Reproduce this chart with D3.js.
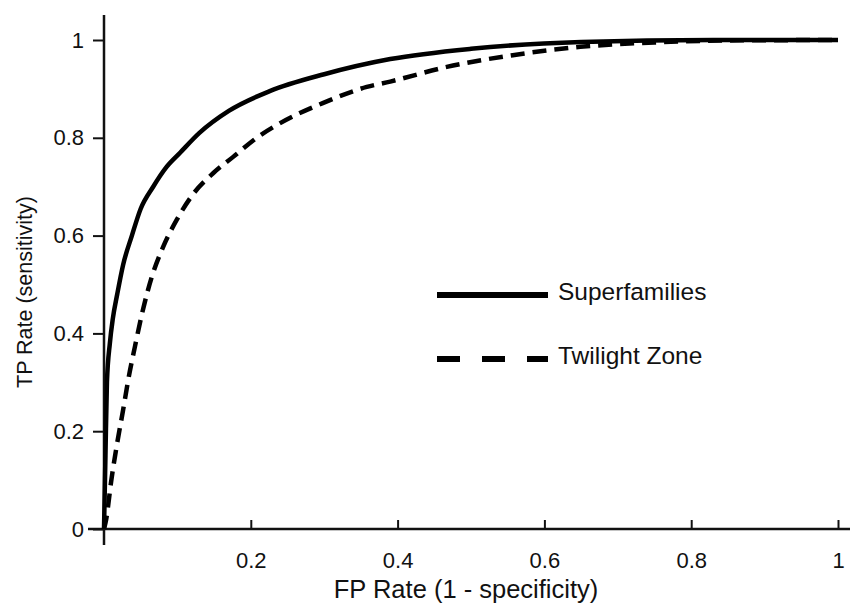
<!DOCTYPE html>
<html>
<head>
<meta charset="utf-8">
<script src="https://cdn.jsdelivr.net/npm/d3@7"></script>
<style>
  body { margin: 0; background: #fff; }
  svg text { font-family: "Liberation Sans", Arial, sans-serif; fill: #111; }
</style>
</head>
<body>
<svg id="plot"></svg>
<script>
// values
const superFpr = [0, 0.002, 0.004, 0.008, 0.012, 0.018, 0.026, 0.038, 0.05, 0.067, 0.085, 0.104, 0.13, 0.17, 0.225, 0.3, 0.39, 0.5, 0.65, 0.83, 1];
const superTpr = [0, 0.15, 0.3, 0.38, 0.43, 0.48, 0.54, 0.6, 0.655, 0.70, 0.74, 0.77, 0.81, 0.855, 0.895, 0.93, 0.961, 0.982, 0.996, 1.0, 1.0];

const twiFpr = [0, 0.003, 0.01, 0.018, 0.026, 0.033, 0.042, 0.053, 0.065, 0.08, 0.099, 0.121, 0.149, 0.176, 0.208, 0.24, 0.298, 0.358, 0.39, 0.467, 0.557, 0.649, 0.75, 0.85, 1];
const twiTpr = [0, 0.02, 0.10, 0.176, 0.243, 0.305, 0.372, 0.448, 0.515, 0.575, 0.632, 0.684, 0.728, 0.761, 0.80, 0.83, 0.871, 0.904, 0.915, 0.945, 0.969, 0.986, 0.995, 0.999, 1];

const xTicks = [0.2, 0.4, 0.6, 0.8, 1];
const yTicks = [0, 0.2, 0.4, 0.6, 0.8, 1];
const seriesNames = ["Superfamilies", "Twilight Zone"];

const W = 852, H = 605;
const svg = d3.select("#plot").attr("width", W).attr("height", H);

// scales
const x = d3.scaleLinear().domain([0, 1]).range([104, 838]);
const y = d3.scaleLinear().domain([0, 1]).range([529, 40]);

// x axis, ticks pointing up into the plot
const xAxis = svg.append("g")
    .attr("transform", "translate(0," + y(0) + ")")
    .call(d3.axisBottom(x).tickValues(xTicks).tickSize(-9).tickPadding(23).tickFormat(d3.format("")));
xAxis.select(".domain").remove();
xAxis.selectAll(".tick line").attr("stroke", "#111").attr("stroke-width", 2);
xAxis.selectAll(".tick text").attr("font-size", 22);
svg.append("line")
    .attr("x1", 88).attr("x2", 850)
    .attr("y1", y(0)).attr("y2", y(0))
    .attr("stroke", "#111").attr("stroke-width", 2.5);

// y axis
const yAxis = svg.append("g")
    .attr("transform", "translate(" + x(0) + ",0)")
    .call(d3.axisLeft(y).tickValues(yTicks).tickSize(11).tickPadding(9).tickFormat(d3.format("")));
yAxis.select(".domain").remove();
yAxis.selectAll(".tick line").attr("stroke", "#111").attr("stroke-width", 2);
yAxis.selectAll(".tick text").attr("font-size", 22);
svg.append("line")
    .attr("x1", x(0)).attr("x2", x(0))
    .attr("y1", 15).attr("y2", 545)
    .attr("stroke", "#111").attr("stroke-width", 2.5);

// axis titles
svg.append("text")
    .attr("x", 466).attr("y", 598)
    .attr("text-anchor", "middle")
    .attr("font-size", 25.5)
    .text("FP Rate (1 - specificity)");
svg.append("text")
    .attr("transform", "translate(32,292) rotate(-90)")
    .attr("text-anchor", "middle")
    .attr("font-size", 21.5)
    .text("TP Rate (sensitivity)");

// curves
const line = d3.line()
    .x(d => x(d[0]))
    .y(d => y(d[1]))
    .curve(d3.curveMonotoneX);

const twiData = d3.zip(twiFpr, twiTpr);
const superData = d3.zip(superFpr, superTpr);

svg.append("path")
    .datum(twiData)
    .attr("d", line)
    .attr("fill", "none")
    .attr("stroke", "#000")
    .attr("stroke-width", 4.5)
    .attr("stroke-dasharray", "14,8");

svg.append("path")
    .datum(superData)
    .attr("d", line)
    .attr("fill", "none")
    .attr("stroke", "#000")
    .attr("stroke-width", 4.5);

// legend
const legend = svg.append("g");
const legY = [295, 359];
legend.selectAll("line")
  .data(seriesNames)
  .join("line")
    .attr("x1", 437).attr("x2", 548)
    .attr("y1", (d, i) => legY[i]).attr("y2", (d, i) => legY[i])
    .attr("stroke", "#000")
    .attr("stroke-width", 6)
    .attr("stroke-dasharray", (d, i) => i === 1 ? "23,22" : null);
legend.selectAll("text")
  .data(seriesNames)
  .join("text")
    .attr("x", 558)
    .attr("y", (d, i) => legY[i] + 5)
    .attr("font-size", 24.5)
    .text(d => d);
</script>
</body>
</html>
